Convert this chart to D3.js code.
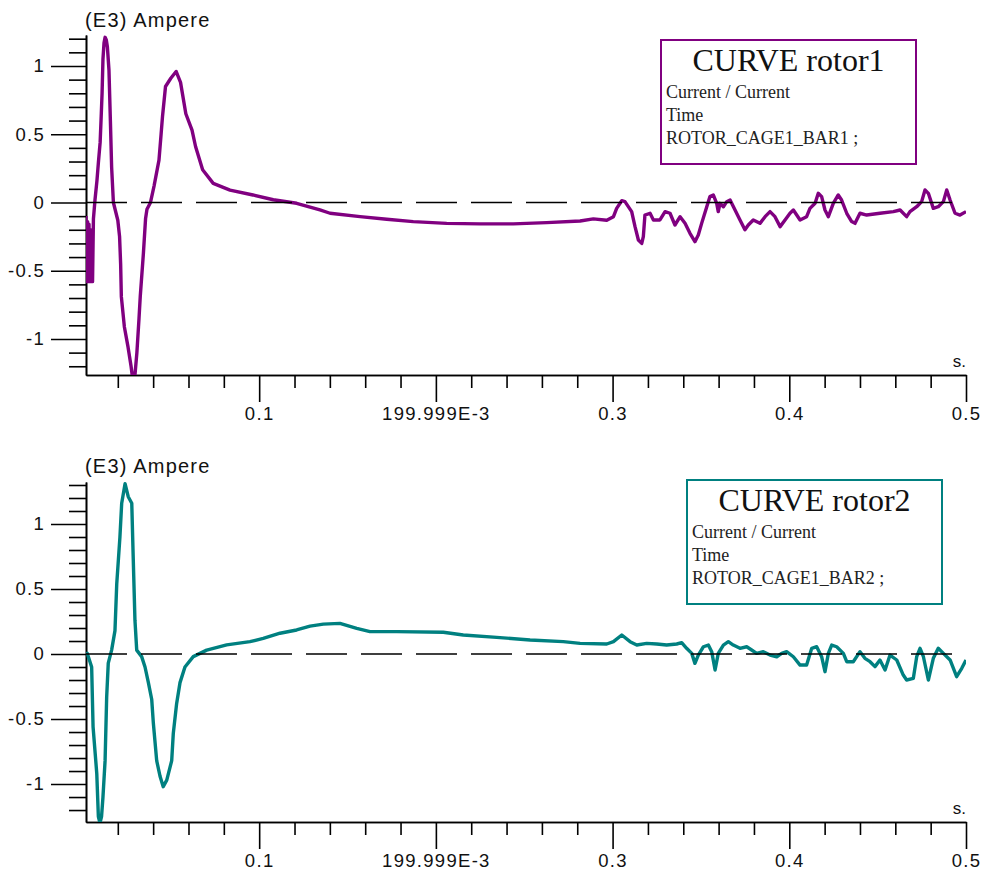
<!DOCTYPE html>
<html>
<head>
<meta charset="utf-8">
<script src="https://cdn.jsdelivr.net/npm/d3@7"></script>
<style>
  html, body { margin: 0; padding: 0; background: #fff; }
  svg { display: block; }
  .axis text { font-family: "Liberation Sans", Arial, sans-serif; font-size: 18.5px; letter-spacing: 1.3px; fill: #111; }
  .axis path, .axis line { stroke: #000; stroke-width: 1.6; }
</style>
</head>
<body>
<svg id="chart" width="983" height="872"></svg>
<script>
// Rotor bar current, kA, against time, s
const rotor1Time = [
  0.0020, 0.0025, 0.0029, 0.0033, 0.0037, 0.0041, 0.0045, 0.0049, 0.0053, 0.0057,
  0.0062, 0.0071, 0.0082, 0.0090, 0.0100, 0.0105, 0.0111, 0.0116, 0.0122, 0.0128,
  0.0135, 0.0141, 0.0150, 0.0158, 0.0165, 0.0175, 0.0200, 0.0210, 0.0216, 0.0220,
  0.0237, 0.0258, 0.0275, 0.0285, 0.0296, 0.0308, 0.0320, 0.0327, 0.0345, 0.0357,
  0.0365, 0.0385, 0.0405, 0.0433, 0.0445, 0.0453, 0.0470, 0.0500, 0.0530, 0.0555,
  0.0585, 0.0620, 0.0640, 0.0680, 0.0740, 0.0835, 0.0965, 0.1080, 0.1212, 0.1344,
  0.1401, 0.1571, 0.1722, 0.1872, 0.2061, 0.2250, 0.2438, 0.2627, 0.2816, 0.2891,
  0.2967, 0.3005, 0.3023, 0.3052, 0.3070, 0.3108, 0.3127, 0.3146, 0.3165, 0.3174,
  0.3183, 0.3212, 0.3231, 0.3268, 0.3297, 0.3325, 0.3353, 0.3382, 0.3410, 0.3438,
  0.3466, 0.3485, 0.3504, 0.3533, 0.3551, 0.3570, 0.3589, 0.3598, 0.3608, 0.3627,
  0.3646, 0.3665, 0.3693, 0.3721, 0.3749, 0.3768, 0.3796, 0.3834, 0.3863, 0.3891,
  0.3919, 0.3948, 0.3976, 0.4004, 0.4023, 0.4061, 0.4098, 0.4117, 0.4146, 0.4164,
  0.4183, 0.4202, 0.4221, 0.4249, 0.4277, 0.4296, 0.4325, 0.4353, 0.4372, 0.4400,
  0.4438, 0.4513, 0.4589, 0.4627, 0.4664, 0.4683, 0.4721, 0.4749, 0.4768, 0.4787,
  0.4815, 0.4843, 0.4872, 0.4891, 0.4910, 0.4938, 0.4966, 0.5000
];
const rotor1Current = [
  -0.10, -0.58, -0.14, -0.58, -0.16, -0.58, -0.20, -0.58, -0.30, -0.58,
  -0.12, 0.02, 0.16, 0.29, 0.44, 0.60, 0.80, 1.05, 1.17, 1.21,
  1.19, 1.14, 0.97, 0.60, 0.26, 0.00, -0.13, -0.25, -0.45, -0.69,
  -0.91, -1.06, -1.20, -1.30, -1.28, -1.10, -0.85, -0.69, -0.37, -0.12,
  -0.05, 0.00, 0.12, 0.31, 0.50, 0.63, 0.85, 0.91, 0.96, 0.88,
  0.65, 0.53, 0.41, 0.24, 0.14, 0.09, 0.055, 0.02, -0.006, -0.055,
  -0.079, -0.104, -0.123, -0.14, -0.153, -0.157, -0.157, -0.148, -0.136, -0.12,
  -0.13, -0.104, -0.043, 0.013, 0.006, -0.067, -0.177, -0.275, -0.30, -0.25,
  -0.092, -0.079, -0.128, -0.128, -0.067, -0.079, -0.165, -0.104, -0.153, -0.226,
  -0.287, -0.238, -0.153, -0.031, 0.043, 0.055, -0.006, -0.067, -0.006, -0.031,
  0.006, 0.018, -0.055, -0.128, -0.20, -0.165, -0.128, -0.153, -0.104, -0.067,
  -0.104, -0.177, -0.128, -0.079, -0.055, -0.128, -0.104, -0.043, -0.006, 0.067,
  0.043, -0.055, -0.104, -0.006, 0.055, 0.018, -0.079, -0.14, -0.153, -0.079,
  -0.092, -0.079, -0.067, -0.055, -0.104, -0.067, -0.031, 0.006, 0.092, 0.067,
  -0.043, -0.031, 0.006, 0.092, 0.018, -0.079, -0.092, -0.067
];

const rotor2Time = [
  0.0020, 0.0027, 0.0052, 0.0060, 0.0081, 0.0090, 0.0099, 0.0108, 0.0116, 0.0128,
  0.0137, 0.0146, 0.0165, 0.0184, 0.0194, 0.0212, 0.0222, 0.0241, 0.0259, 0.0279,
  0.0286, 0.0297, 0.0307, 0.0335, 0.0354, 0.0373, 0.0392, 0.0401, 0.0420, 0.0439,
  0.0457, 0.0477, 0.0505, 0.0514, 0.0533, 0.0552, 0.0580, 0.0627, 0.0703, 0.0816,
  0.0948, 0.1023, 0.1118, 0.1212, 0.1288, 0.1363, 0.1457, 0.1552, 0.1627, 0.1778,
  0.2042, 0.2155, 0.2344, 0.2533, 0.2721, 0.2816, 0.2967, 0.3005, 0.3052, 0.3099,
  0.3137, 0.3193, 0.3250, 0.3306, 0.3363, 0.3391, 0.3419, 0.3448, 0.3466, 0.3485,
  0.3514, 0.3542, 0.3561, 0.3580, 0.3598, 0.3627, 0.3655, 0.3683, 0.3721, 0.3759,
  0.3787, 0.3815, 0.3853, 0.3891, 0.3929, 0.3957, 0.3985, 0.4023, 0.4061, 0.4098,
  0.4127, 0.4155, 0.4183, 0.4202, 0.4221, 0.4240, 0.4268, 0.4306, 0.4325, 0.4362,
  0.4400, 0.4428, 0.4457, 0.4485, 0.4513, 0.4542, 0.4570, 0.4608, 0.4645, 0.4664,
  0.4702, 0.4721, 0.4740, 0.4759, 0.4787, 0.4815, 0.4843, 0.4872, 0.4910, 0.4947,
  0.4976, 0.5000
];
const rotor2Current = [
  0.00, 0.005, -0.10, -0.56, -0.92, -1.25, -1.30, -1.25, -1.10, -0.82,
  -0.33, -0.07, 0.03, 0.18, 0.54, 0.90, 1.16, 1.31, 1.21, 1.16,
  0.80, 0.26, 0.03, -0.02, -0.10, -0.22, -0.35, -0.53, -0.82, -0.94,
  -1.02, -0.97, -0.82, -0.61, -0.38, -0.22, -0.10, -0.02, 0.03, 0.07,
  0.095, 0.12, 0.16, 0.185, 0.215, 0.23, 0.236, 0.197, 0.172, 0.172,
  0.167, 0.146, 0.128, 0.108, 0.095, 0.082, 0.077, 0.095, 0.146, 0.095,
  0.069, 0.082, 0.077, 0.069, 0.077, 0.087, 0.044, 0.005, -0.072, -0.008,
  0.056, 0.069, 0.018, -0.123, 0.005, 0.069, 0.095, 0.069, 0.044, 0.056,
  0.031, 0.005, 0.018, -0.008, -0.021, 0.005, 0.018, -0.021, -0.085, -0.085,
  0.044, 0.056, -0.021, -0.136, 0.005, 0.069, 0.056, 0.005, -0.059, -0.059,
  0.018, -0.033, -0.059, -0.097, -0.046, -0.123, -0.008, -0.046, -0.162, -0.20,
  -0.187, -0.021, 0.044, -0.021, -0.20, -0.033, 0.044, 0.005, -0.046, -0.174,
  -0.11, -0.046
];

// Axis ticks and labels
const xTickValues = [0.1, 0.2, 0.3, 0.4, 0.5];
const xTickLabels = ["0.1", "199.999E-3", "0.3", "0.4", "0.5"];
const yTickValues = [-1, -0.5, 0, 0.5, 1];
const yTickLabels = ["-1", "-0.5", "0", "0.5", "1"];
const unitLabel = "(E3) Ampere";
const timeUnit = "s.";

// Legend texts
const curveTitles = ["CURVE rotor1", "CURVE rotor2"];
const quantityLine = "Current / Current";
const abscissaLine = "Time";
const barNames = ["ROTOR_CAGE1_BAR1 ;", "ROTOR_CAGE1_BAR2 ;"];

const svg = d3.select("#chart");

const x = d3.scaleLinear().domain([0.002, 0.5]).range([86, 966]);
const xMinor = d3.range(1, 25).map(k => k * 0.02).filter(v => Math.abs(v * 10 - Math.round(v * 10)) > 1e-6);

const panels = [
  { time: rotor1Time, current: rotor1Current, color: "#800080", top: 35, bottom: 375,
    yDomain: [-1.264, 1.227], unitY: 27, box: { x: 661, y: 40, w: 255, h: 124 },
    title: curveTitles[0], bar: barNames[0] },
  { time: rotor2Time, current: rotor2Current, color: "#008080", top: 482, bottom: 822,
    yDomain: [-1.292, 1.323], unitY: 473, box: { x: 687, y: 480, w: 255, h: 124 },
    title: curveTitles[1], bar: barNames[1] }
];

panels.forEach((p, i) => {
  const y = d3.scaleLinear().domain(p.yDomain).range([p.bottom, p.top]);
  const g = svg.append("g");

  const clipId = "plot-clip-" + i;
  svg.append("clipPath").attr("id", clipId)
    .append("rect")
    .attr("x", x.range()[0]).attr("y", p.top)
    .attr("width", x.range()[1] - x.range()[0])
    .attr("height", p.bottom - p.top);

  // Minor y ticks every 0.1
  const yMinor = d3.range(-13, 14).map(k => k / 10)
    .filter(v => v >= p.yDomain[0] && v <= p.yDomain[1])
    .filter(v => Math.abs(v * 2 - Math.round(v * 2)) > 1e-6);
  g.append("g").attr("class", "axis")
    .attr("transform", `translate(${x.range()[0]},0)`)
    .call(d3.axisLeft(y).tickValues(yMinor).tickSize(17).tickSizeOuter(0).tickFormat(""));

  // Major y ticks with labels
  g.append("g").attr("class", "axis")
    .attr("transform", `translate(${x.range()[0]},0)`)
    .call(d3.axisLeft(y).tickValues(yTickValues).tickSize(35).tickSizeOuter(0).tickPadding(6)
      .tickFormat((d, k) => yTickLabels[k]));

  // Minor x ticks every 0.02
  g.append("g").attr("class", "axis")
    .attr("transform", `translate(0,${p.bottom})`)
    .call(d3.axisBottom(x).tickValues(xMinor).tickSize(13).tickSizeOuter(0).tickFormat(""));

  // Major x ticks with labels
  g.append("g").attr("class", "axis")
    .attr("transform", `translate(0,${p.bottom})`)
    .call(d3.axisBottom(x).tickValues(xTickValues).tickSize(27).tickSizeOuter(0).tickPadding(5)
      .tickFormat((d, k) => xTickLabels[k]));

  // Current trace
  const pts = p.time.map((t, k) => [t, p.current[k]]);
  g.append("path")
    .datum(pts)
    .attr("clip-path", `url(#${clipId})`)
    .attr("fill", "none")
    .attr("stroke", p.color)
    .attr("stroke-width", 3.4)
    .attr("stroke-linejoin", "round")
    .attr("d", d3.line().x(d => x(d[0])).y(d => y(d[1])));

  // Dashed zero reference
  g.append("line")
    .attr("x1", x.range()[0]).attr("x2", x.range()[1])
    .attr("y1", y(0)).attr("y2", y(0))
    .attr("stroke", "#000").attr("stroke-width", 1.6)
    .attr("stroke-dasharray", "41,14");

  // Unit labels
  g.append("text")
    .attr("x", 85).attr("y", p.unitY)
    .attr("font-family", "Liberation Sans, Arial, sans-serif")
    .attr("font-size", 20).attr("letter-spacing", 1.2).attr("fill", "#111")
    .text(unitLabel);
  g.append("text")
    .attr("x", 966).attr("y", p.bottom - 8)
    .attr("text-anchor", "end")
    .attr("font-family", "Liberation Sans, Arial, sans-serif")
    .attr("font-size", 17).attr("fill", "#111")
    .text(timeUnit);

  // Legend box
  const b = p.box;
  const lg = g.append("g");
  lg.append("rect")
    .attr("x", b.x).attr("y", b.y).attr("width", b.w).attr("height", b.h)
    .attr("fill", "#fff").attr("stroke", p.color).attr("stroke-width", 2);
  lg.append("text")
    .attr("x", b.x + b.w / 2).attr("y", b.y + 31)
    .attr("text-anchor", "middle")
    .attr("font-family", "Liberation Serif, Times New Roman, serif")
    .attr("font-size", 32).attr("fill", "#111")
    .text(p.title);
  [quantityLine, abscissaLine, p.bar].forEach((s, k) => {
    lg.append("text")
      .attr("x", b.x + 5).attr("y", b.y + 58 + k * 23)
      .attr("font-family", "Liberation Serif, Times New Roman, serif")
      .attr("font-size", 18).attr("fill", "#222")
      .text(s);
  });
});
</script>
</body>
</html>
